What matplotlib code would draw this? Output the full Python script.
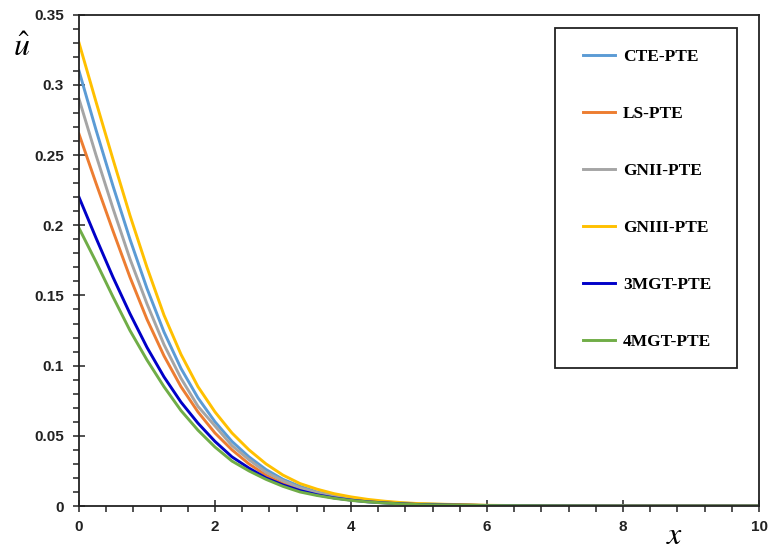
import matplotlib
matplotlib.use("Agg")
import matplotlib.pyplot as plt
from matplotlib.patches import Rectangle
from matplotlib.ticker import MultipleLocator

# x positions (read at 0.25 steps up to 5, then coarse)
x = [0, 0.25, 0.5, 0.75, 1.0, 1.25, 1.5, 1.75, 2.0, 2.25, 2.5, 2.75, 3.0,
     3.25, 3.5, 3.75, 4.0, 4.25, 4.5, 4.75, 5.0, 6, 7, 8, 9, 10]

cte = [0.310, 0.268, 0.228, 0.190, 0.155, 0.124, 0.098, 0.077, 0.060, 0.046,
       0.035, 0.026, 0.019, 0.014, 0.010, 0.0075, 0.0055, 0.0040, 0.0029,
       0.0021, 0.0015, 0.0004, 0.0001, 0.0, 0.0, 0.0]
ls = [0.265, 0.230, 0.196, 0.163, 0.133, 0.107, 0.085, 0.067, 0.052, 0.040,
      0.030, 0.022, 0.016, 0.012, 0.0088, 0.0064, 0.0047, 0.0034, 0.0025,
      0.0018, 0.0013, 0.0003, 0.0001, 0.0, 0.0, 0.0]
gn2 = [0.290, 0.250, 0.212, 0.176, 0.144, 0.115, 0.091, 0.071, 0.057, 0.043,
       0.033, 0.024, 0.018, 0.013, 0.0095, 0.007, 0.005, 0.0037, 0.0027,
       0.0019, 0.0014, 0.0004, 0.0001, 0.0, 0.0, 0.0]
gn3 = [0.330, 0.288, 0.247, 0.207, 0.170, 0.136, 0.108, 0.085, 0.067, 0.052,
       0.040, 0.030, 0.022, 0.016, 0.012, 0.0088, 0.0065, 0.0047, 0.0034,
       0.0024, 0.0017, 0.0005, 0.0001, 0.0, 0.0, 0.0]
mgt3 = [0.220, 0.191, 0.163, 0.137, 0.113, 0.092, 0.074, 0.059, 0.046, 0.035,
        0.027, 0.020, 0.015, 0.011, 0.008, 0.0058, 0.0042, 0.003, 0.0022,
        0.0016, 0.0011, 0.0003, 0.0001, 0.0, 0.0, 0.0]
mgt4 = [0.198, 0.174, 0.149, 0.125, 0.104, 0.085, 0.068, 0.054, 0.042, 0.032,
        0.025, 0.019, 0.014, 0.010, 0.0075, 0.0055, 0.004, 0.0029, 0.0021,
        0.0015, 0.001, 0.0003, 0.0001, 0.0, 0.0, 0.0]

labels = ["CTE-PTE", "LS-PTE", "GNII-PTE", "GNIII-PTE", "3MGT-PTE", "4MGT-PTE"]
series = [cte, ls, gn2, gn3, mgt3, mgt4]
colors = ["#5B9BD5", "#ED7D31", "#A5A5A5", "#FFC000", "#0000C8", "#70AD47"]

plt.rcParams["mathtext.fontset"] = "stix"

fig = plt.figure(figsize=[7.69, 5.49], dpi=100)
ax = fig.add_axes([0.1027, 0.0783, 0.8843, 0.895])

for y, lab, c in zip(series, labels, colors):
    ax.plot(x, y, color=c, lw=2.1, label=lab)

ax.set_xlim(0, 10)
ax.set_ylim(0, 0.35)
ax.xaxis.set_major_locator(MultipleLocator(2))
ax.xaxis.set_minor_locator(MultipleLocator(0.4))
ax.yaxis.set_major_locator(MultipleLocator(0.05))
ax.yaxis.set_minor_locator(MultipleLocator(0.01))
ax.yaxis.set_major_formatter(plt.FuncFormatter(lambda v, p: "0" if v == 0 else f"{v:g}"))

ax.tick_params(which="major", direction="inout", length=8, width=1.1, color="#222")
ax.tick_params(which="minor", direction="out", length=4, width=1.1, color="#222")
ax.tick_params(axis="x", which="major", pad=6)
ax.tick_params(axis="y", which="major", pad=7)
for lbl in ax.get_xticklabels() + ax.get_yticklabels():
    lbl.set_fontfamily("Liberation Sans")
    lbl.set_fontweight("bold")
    lbl.set_fontsize(11)
    lbl.set_color("#222")

for s in ax.spines.values():
    s.set_linewidth(1.3)
    s.set_color("#222")

# legend box drawn separately so the padding can differ horizontally / vertically
ax.add_patch(Rectangle((0.700, 0.281), 0.2676, 0.692, transform=ax.transAxes,
                       fill=False, edgecolor="#222", lw=1.3, zorder=5))
ax.legend(loc="upper left", bbox_to_anchor=(0.741, 0.930),
          prop={"family": "Liberation Serif", "weight": "bold", "size": 12.5},
          frameon=False, borderpad=0, labelspacing=2.35, handlelength=1.85,
          handletextpad=0.45, borderaxespad=0)

fig.text(22 / 769, 1 - 48 / 549, r"$\hat{u}$", fontsize=23,
         ha="center", va="center")
fig.text(675 / 769, 1 - 535 / 549, r"$x$", fontsize=23,
         ha="center", va="center")

fig.savefig("out.png", dpi=100)
